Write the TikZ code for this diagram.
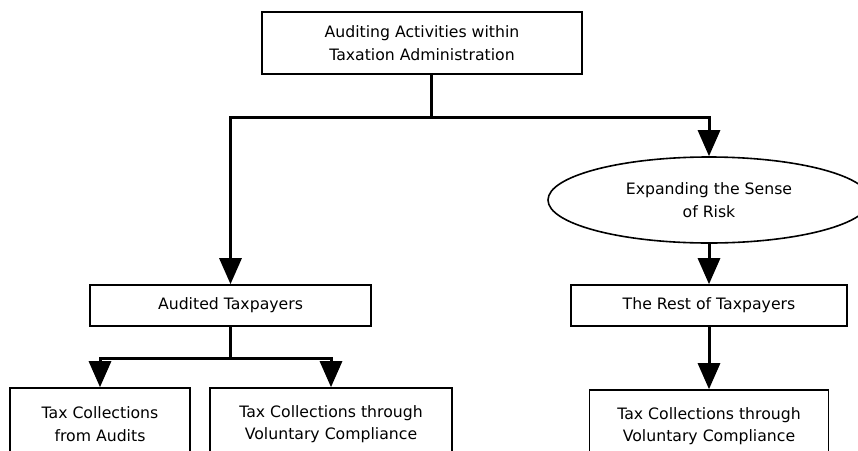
\documentclass[tikz,border=0pt]{standalone}
\usepackage{fontspec}
\setmainfont{DejaVu Sans}
\usetikzlibrary{arrows.meta,shapes.geometric}
\begin{document}
\begin{tikzpicture}[x=1pt,y=-1pt,
  every node/.style={font=\fontsize{15.7}{22.5}\selectfont, align=center, inner sep=0pt},
  box/.style={draw, line width=1.6pt, rectangle},
  oval/.style={draw, line width=1.6pt, ellipse},
  link/.style={line width=3pt, -{Triangle[width=22pt,length=26pt]}},
  stem/.style={line width=3pt}]
\useasboundingbox (0,0) rectangle (858,450);
\clip (0,0) rectangle (858,450);
\fill[white] (0,0) rectangle (858,450);

% nodes
\node[box, minimum width=320pt, minimum height=62pt] (top) at (422,43)
  {Auditing Activities within\\Taxation Administration};
\node[oval, minimum width=322pt, minimum height=86pt] (risk) at (709,200)
  {Expanding the Sense\\of Risk};
\node[box, minimum width=281pt, minimum height=41pt] (aud) at (230.5,305.5)
  {Audited Taxpayers};
\node[box, minimum width=276pt, minimum height=41pt] (rest) at (709,305.5)
  {The Rest of Taxpayers};
\node[box, minimum width=180pt, minimum height=72pt] (fromaud) at (100,424)
  {Tax Collections\\from Audits};
\node[box, minimum width=242pt, minimum height=72pt] (volA) at (331,424)
  {Tax Collections through\\Voluntary Compliance};
\node[box, minimum width=239pt, minimum height=72pt] (volB) at (709,426)
  {Tax Collections through\\Voluntary Compliance};

% junction points
\coordinate (j1) at (431,117);
\coordinate (j2) at (230.5,358);

% connectors
\draw[stem] (top.south -| j1) -- (j1);
\draw[link] (j1) -| (aud.north);
\draw[link] (j1) -| (risk.north);
\draw[link] (risk.south) -- (rest.north);
\draw[stem] (aud.south) -- (j2);
\draw[link] (j2) -| (fromaud.north);
\draw[link] (j2) -| (volA.north);
\draw[link] (rest.south) -- (volB.north);
\end{tikzpicture}
\end{document}
